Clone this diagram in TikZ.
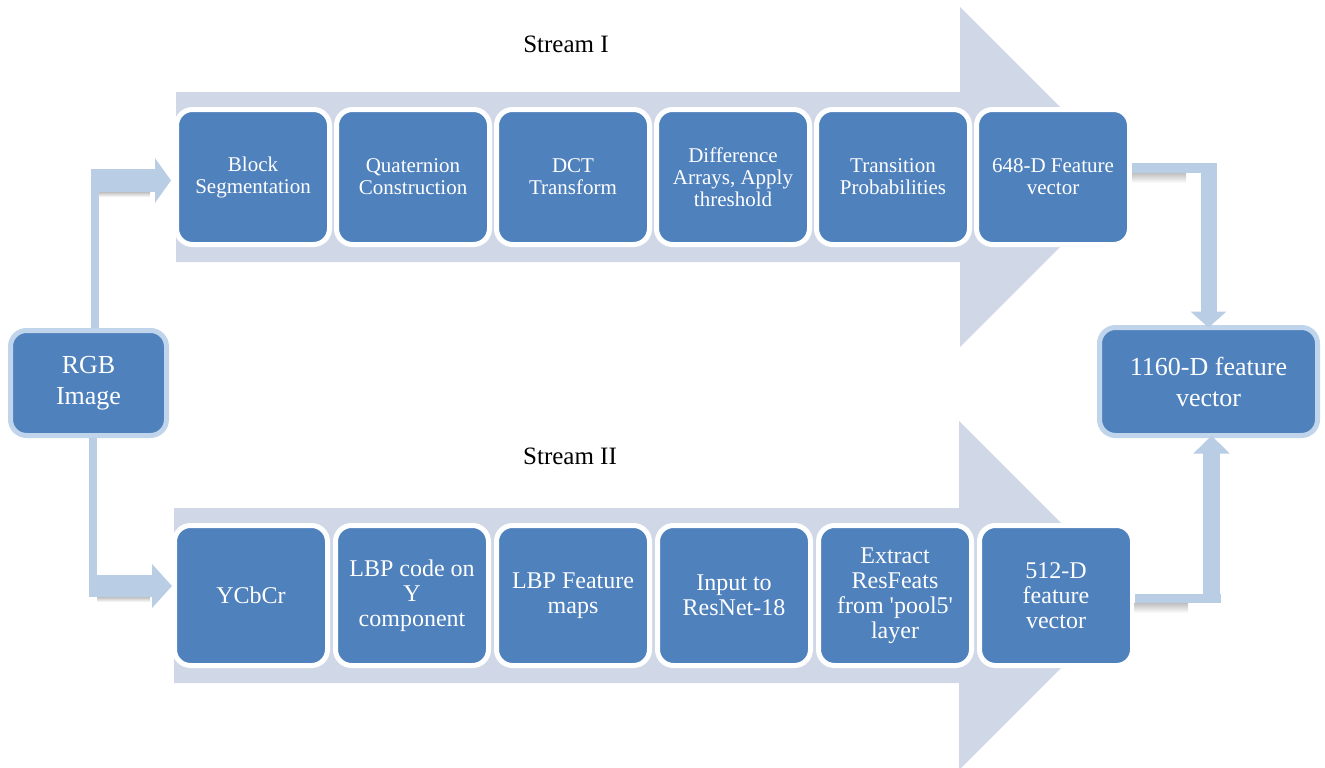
\documentclass[tikz,border=0pt]{standalone}
\usepackage{fontspec}
\setmainfont{Liberation Serif}
\usetikzlibrary{arrows.meta,calc}
\definecolor{boxblue}{HTML}{4F81BD}
\definecolor{bigarrow}{HTML}{D0D8E8}
\definecolor{conn}{HTML}{B9CDE5}
\definecolor{ring}{HTML}{C0D4EC}
\newcommand\sq{\XeTeXglyph\XeTeXcharglyph"27\relax}
\begin{document}
\begin{tikzpicture}[x=1pt,y=-1pt,
  stepA/.style={rectangle, rounded corners=16pt, fill=boxblue, draw=white, line width=5pt,
    minimum width=153pt, minimum height=135pt, text=white, align=center,
    font=\fontsize{21}{22}\selectfont, inner sep=0pt},
  stepB/.style={stepA, minimum height=140pt, font=\fontsize{24}{25}\selectfont},
  endbox/.style={rectangle, rounded corners=16pt, fill=boxblue, draw=ring, line width=5pt,
    text=white, align=center, font=\fontsize{26}{31}\selectfont, inner sep=0pt},
  bar/.style={draw=conn, line cap=butt},
  shadowbar/.style={top color=black!25, bottom color=white},
  title/.style={font=\fontsize{25}{30}\selectfont, text=black, inner sep=0pt}
]
\useasboundingbox (0,0) rectangle (1325,768);
\fill[white] (0,0) rectangle (1325,768);

% big stream arrows
\fill[bigarrow] (176,92) -- (960,92) -- (960,7) -- (1130,177) -- (960,347) -- (960,262) -- (176,262) -- cycle;
\fill[bigarrow] (174,508) -- (959,508) -- (959,421) -- (1133.5,595.5) -- (959,770) -- (959,683) -- (174,683) -- cycle;

% titles
\node[title] (t1) at (566,44) {Stream I};
\node[title] (t2) at (570,456) {Stream II};

% stream I
\node[stepA] (b1) at (253,177) {Block\\Segmentation};
\node[stepA] (b2) at (413,177) {Quaternion\\Construction};
\node[stepA] (b3) at (573,177) {DCT\\Transform};
\node[stepA] (b4) at (733,177) {Difference\\Arrays, Apply\\threshold};
\node[stepA] (b5) at (893,177) {Transition\\Probabilities};
\node[stepA] (b6) at (1053,177) {648-D Feature\\vector};

% stream II
\node[stepB] (s1) at (251,595.5) {YCbCr};
\node[stepB] (s2) at (412,595.5) {LBP code on\\Y\\component};
\node[stepB] (s3) at (573,595.5) {LBP Feature\\maps};
\node[stepB] (s4) at (734,595.5) {Input to\\ResNet-18};
\node[stepB] (s5) at (895,595.5) {Extract\\ResFeats\\from \sq pool5\sq\\layer};
\node[stepB] (s6) at (1056,595.5) {512-D\\feature\\vector};

% input and output
\node[endbox, minimum width=156pt, minimum height=105pt] (rgb) at (88.5,383) {RGB\\Image};
\node[endbox, minimum width=218pt, minimum height=108pt] (fv) at (1208.5,381.5) {1160-D feature\\vector};

% connector coordinates
\coordinate (lt) at (95,169);
\coordinate (lth) at (91,180.5);
\coordinate (lb) at (93,597);
\coordinate (lbh) at (89,586);
\coordinate (rt) at (1217,168);
\coordinate (rtv) at (1209,163);
\coordinate (rb) at (1221,598.5);
\coordinate (rbv) at (1211.5,603);

% soft shadows under horizontal parts
\shade[shadowbar] (99,192) rectangle (150,197);
\shade[shadowbar] (97,597) rectangle (150,602);
\shade[shadowbar] (1132,173) rectangle (1186,183);
\shade[shadowbar] (1134,603) rectangle (1188,613);

% left connectors
\draw[bar, line width=8pt] (rgb.north -| lt) -- (lt);
\draw[bar, line width=23pt, -{Triangle[width=44pt,length=16pt]}, shorten >=3pt] (lth) -- (b1.west |- lth);
\draw[bar, line width=8pt] (rgb.south -| lb) -- (lb);
\draw[bar, line width=22pt, -{Triangle[width=43pt,length=20pt]}] (lbh) -- (s1.west |- lbh);

% right connectors
\draw[bar, line width=10pt] (b6.east |- rt) -- (rt);
\draw[bar, line width=16pt, -{Triangle[width=35pt,length=16pt]}, shorten >=-2.5pt] (fv.north |- rtv) -- (fv.north);
\draw[bar, line width=9.5pt] (s6.east |- rb) -- (rb);
\draw[bar, line width=17pt, -{Triangle[width=35pt,length=18pt]}, shorten >=-2.5pt] (rbv) -- (fv.south -| rbv);
\end{tikzpicture}
\end{document}
